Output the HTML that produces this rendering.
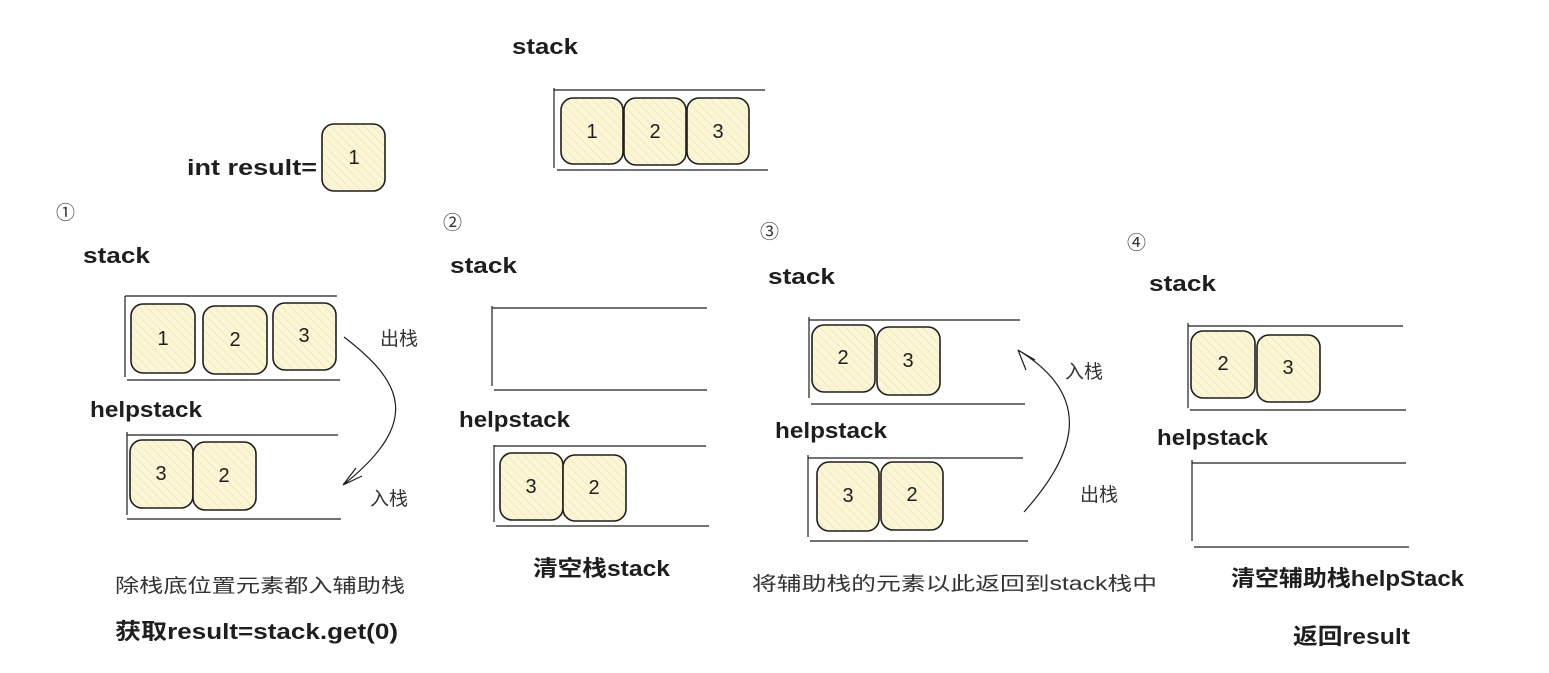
<!DOCTYPE html>
<html><head><meta charset="utf-8"><style>
html,body{margin:0;padding:0;background:#fff;}
svg{display:block}
text{font-family:"Liberation Sans","Noto Sans CJK SC",sans-serif;fill:#1e1e1e;}
.l{stroke:#1e1e1e;stroke-width:1.2;fill:none}
.b{fill:url(#h);stroke:#1e1e1e;stroke-width:1.6}
.n{font-size:20px;text-anchor:middle}
.t{font-size:22px;font-weight:bold}
.c{font-size:19px;fill:#333}
</style></head><body>
<svg width="1549" height="673" viewBox="0 0 1549 673">
<defs>
<pattern id="h" patternUnits="userSpaceOnUse" width="6" height="6" patternTransform="rotate(-45)">
<rect width="6" height="6" fill="#fcf6d8"/>
<line x1="0" y1="0" x2="0" y2="6" stroke="#f3e6a6" stroke-width="1.5"/>
</pattern>
</defs>

<!-- top -->
<text class="t" x="512" y="54" textLength="66" lengthAdjust="spacingAndGlyphs">stack</text>
<path class="l" d="M554 88V168M554 90H765M557 170H768"/>
<rect class="b" x="561" y="98" width="62" height="66" rx="12"/><text class="n" x="592" y="138">1</text>
<rect class="b" x="624" y="98" width="62" height="67" rx="12"/><text class="n" x="655" y="138">2</text>
<rect class="b" x="687" y="98" width="62" height="66" rx="12"/><text class="n" x="718" y="138">3</text>
<text class="t" x="187" y="175" textLength="130" lengthAdjust="spacingAndGlyphs">int result=</text>
<rect class="b" x="322" y="124" width="63" height="67" rx="12"/><text class="n" x="354" y="164">1</text>

<!-- 1 -->
<text class="c" x="56" y="219" font-size="22">①</text>
<text class="t" x="83" y="263" textLength="67" lengthAdjust="spacingAndGlyphs">stack</text>
<path class="l" d="M125 296V377M125 296H337M127 380H340"/>
<rect class="b" x="131" y="304" width="64" height="69" rx="12"/><text class="n" x="163" y="345">1</text>
<rect class="b" x="203" y="306" width="64" height="68" rx="12"/><text class="n" x="235" y="346">2</text>
<rect class="b" x="273" y="303" width="63" height="67" rx="12"/><text class="n" x="304" y="342">3</text>
<text class="t" x="90" y="417" textLength="112" lengthAdjust="spacingAndGlyphs">helpstack</text>
<path class="l" d="M127 432V515M127 435H338M127 519H341"/>
<rect class="b" x="130" y="440" width="63" height="68" rx="12"/><text class="n" x="161" y="480">3</text>
<rect class="b" x="193" y="442" width="63" height="68" rx="12"/><text class="n" x="224" y="482">2</text>
<path class="l" d="M344 337C400 380 425 420 343 485M343 485L356 468M343 485L362 476"/>
<text class="c" x="380" y="345">出栈</text>
<text class="c" x="370" y="505">入栈</text>
<text class="c" x="115" y="592" textLength="290" lengthAdjust="spacingAndGlyphs">除栈底位置元素都入辅助栈</text>
<text class="t" x="115" y="639" textLength="283" lengthAdjust="spacingAndGlyphs">获取result=stack.get(0)</text>

<!-- 2 -->
<text class="c" x="443" y="229" font-size="22">②</text>
<text class="t" x="450" y="273" textLength="67" lengthAdjust="spacingAndGlyphs">stack</text>
<path class="l" d="M492 306V386M492 308H707M494 390H707"/>
<text class="t" x="459" y="427" textLength="111" lengthAdjust="spacingAndGlyphs">helpstack</text>
<path class="l" d="M494 445V522M494 446H706M496 526H709"/>
<rect class="b" x="500" y="453" width="63" height="67" rx="12"/><text class="n" x="531" y="493">3</text>
<rect class="b" x="563" y="455" width="63" height="66" rx="12"/><text class="n" x="594" y="494">2</text>
<text class="t" x="533" y="576" textLength="137" lengthAdjust="spacingAndGlyphs">清空栈stack</text>

<!-- 3 -->
<text class="c" x="760" y="238" font-size="22">③</text>
<text class="t" x="768" y="284" textLength="67" lengthAdjust="spacingAndGlyphs">stack</text>
<path class="l" d="M809 317V398M809 320H1020M811 404H1025"/>
<rect class="b" x="812" y="325" width="63" height="67" rx="12"/><text class="n" x="843" y="364">2</text>
<rect class="b" x="877" y="327" width="63" height="68" rx="12"/><text class="n" x="908" y="367">3</text>
<text class="t" x="775" y="438" textLength="112" lengthAdjust="spacingAndGlyphs">helpstack</text>
<path class="l" d="M808 455V537M808 458H1023M810 541H1028"/>
<rect class="b" x="817" y="462" width="62" height="69" rx="12"/><text class="n" x="848" y="502">3</text>
<rect class="b" x="881" y="462" width="62" height="68" rx="12"/><text class="n" x="912" y="501">2</text>
<path class="l" d="M1024 512C1070 460 1100 400 1018 350M1018 350L1026 370M1018 350L1035 360"/>
<text class="c" x="1065" y="378">入栈</text>
<text class="c" x="1080" y="501">出栈</text>
<text class="c" x="752" y="590" textLength="405" lengthAdjust="spacingAndGlyphs">将辅助栈的元素以此返回到stack栈中</text>

<!-- 4 -->
<text class="c" x="1127" y="249" font-size="22">④</text>
<text class="t" x="1149" y="291" textLength="67" lengthAdjust="spacingAndGlyphs">stack</text>
<path class="l" d="M1188 323V408M1188 326H1403M1190 410H1406"/>
<rect class="b" x="1191" y="331" width="64" height="67" rx="12"/><text class="n" x="1223" y="370">2</text>
<rect class="b" x="1257" y="335" width="63" height="67" rx="12"/><text class="n" x="1288" y="374">3</text>
<text class="t" x="1157" y="445" textLength="111" lengthAdjust="spacingAndGlyphs">helpstack</text>
<path class="l" d="M1192 460V541M1192 463H1406M1194 547H1409"/>
<text class="t" x="1231" y="586" textLength="233" lengthAdjust="spacingAndGlyphs">清空辅助栈helpStack</text>
<text class="t" x="1293" y="644" textLength="117" lengthAdjust="spacingAndGlyphs">返回result</text>
</svg>
</body></html>
